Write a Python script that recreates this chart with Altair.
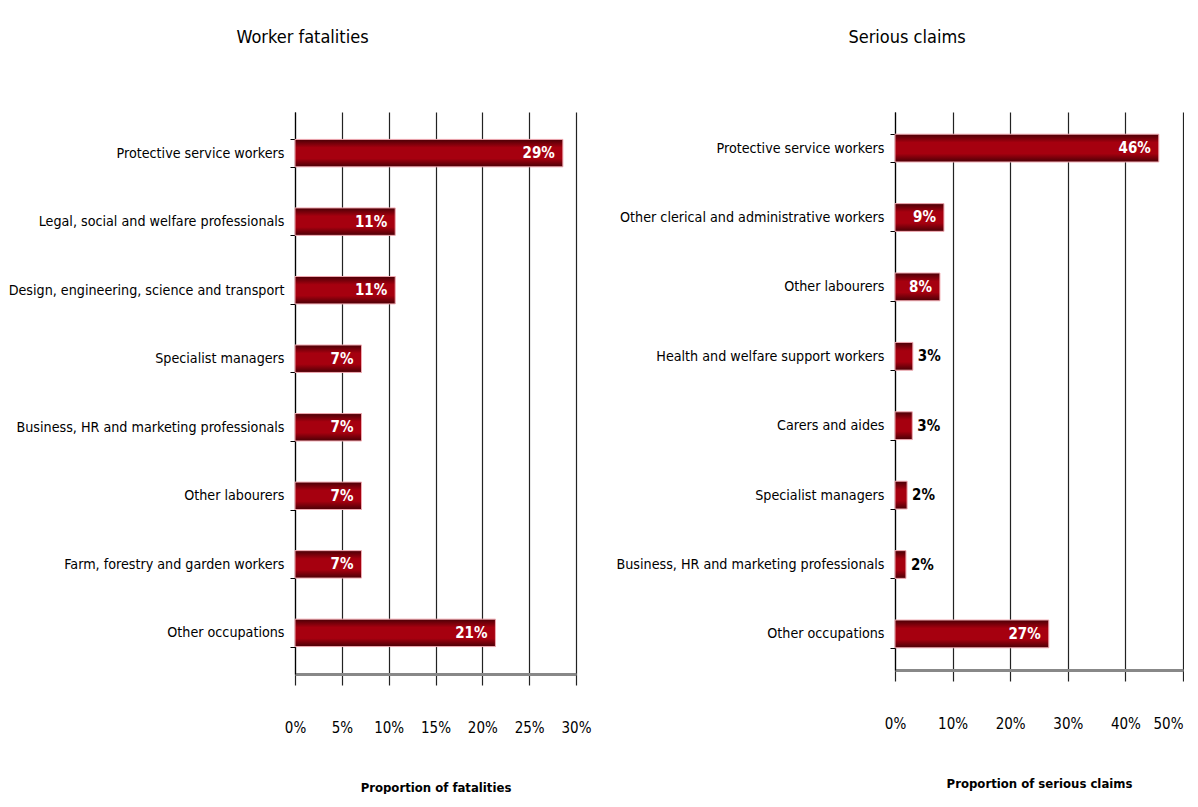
import altair as alt
import pandas as pd

# ---- data ----
fat_cats = [
    "Protective service workers",
    "Legal, social and welfare professionals",
    "Design, engineering, science and transport",
    "Specialist managers",
    "Business, HR and marketing professionals",
    "Other labourers",
    "Farm, forestry and garden workers",
    "Other occupations",
]
fat_vals = [28.6, 10.7, 10.7, 7.1, 7.1, 7.1, 7.1, 21.4]
fat_labels = ["29%", "11%", "11%", "7%", "7%", "7%", "7%", "21%"]
fat_ticks = [0, 0.05, 0.10, 0.15, 0.20, 0.25, 0.30]

claim_cats = [
    "Protective service workers",
    "Other clerical and administrative workers",
    "Other labourers",
    "Health and welfare support workers",
    "Carers and aides",
    "Specialist managers",
    "Business, HR and marketing professionals",
    "Other occupations",
]
claim_vals = [45.8, 8.5, 7.8, 3.1, 3.0, 2.1, 1.9, 26.7]
claim_labels = ["46%", "9%", "8%", "3%", "3%", "2%", "2%", "27%"]
claim_ticks = [0, 0.10, 0.20, 0.30, 0.40, 0.50]

FONT = "DejaVu Sans Condensed, Liberation Sans Narrow, sans-serif"

gradient = alt.Gradient(
    gradient="linear",
    x1=0, x2=0, y1=0, y2=1,
    stops=[
        alt.GradientStop(color="#4a0006", offset=0),
        alt.GradientStop(color="#a6000f", offset=0.3),
        alt.GradientStop(color="#a6000f", offset=0.7),
        alt.GradientStop(color="#4a0006", offset=1),
    ],
)


def panel(cats, vals, labels, ticks, title, xtitle, width, height, pad_outer, tdx):
    df = pd.DataFrame({
        "cat": cats,
        "val": [v / 100 for v in vals],
        "lab": labels,
        "inside": [v >= 5 for v in vals],
    })
    y = alt.Y(
        "cat:N", sort=cats, title=None,
        scale=alt.Scale(paddingInner=0.6, paddingOuter=pad_outer),
        axis=alt.Axis(
            tickBand="extent", ticks=True, tickSize=5, tickColor="black",
            domainColor="black", domainWidth=1.2,
            labelFont=FONT, labelFontSize=14.2, labelColor="black",
            labelPadding=6, labelLimit=400, grid=False,
        ),
    )
    x = alt.X(
        "val:Q", title=xtitle,
        scale=alt.Scale(domain=[0, ticks[-1]], nice=False),
        axis=alt.Axis(
            values=ticks, format=".0%", grid=True, gridColor="#222",
            gridWidth=1.2, domainColor="#888", domainWidth=3,
            tickColor="#222", tickSize=11, tickWidth=1.2,
            labelFont=FONT, labelFontSize=15, labelColor="black",
            labelPadding=35, labelOverlap=False, labelFlush=False,
            labelAlign={
                "condition": {"test": "datum.value >= 0.45", "value": "right"},
                "value": "center",
            },
            titleFont=FONT, titleFontSize=13, titleFontWeight="bold",
            titleColor="black", titlePadding=46,
        ),
    )
    bars = alt.Chart(df).mark_bar(
        color=gradient, stroke="#f0a8b0", strokeWidth=1
    ).encode(x=x, y=y)
    t_in = alt.Chart(df).transform_filter("datum.inside").mark_text(
        align="right", baseline="middle", dx=-8, color="white",
        font=FONT, fontSize=15, fontWeight="bold",
    ).encode(x="val:Q", y=alt.Y("cat:N", sort=cats), text="lab:N")
    t_out = alt.Chart(df).transform_filter("!datum.inside").mark_text(
        align="left", baseline="middle", dx=5, color="black",
        font=FONT, fontSize=15, fontWeight="bold",
    ).encode(x="val:Q", y=alt.Y("cat:N", sort=cats), text="lab:N")
    return alt.layer(bars, t_in, t_out).properties(
        width=width, height=height,
        title=alt.TitleParams(
            title, font=FONT, fontSize=18, fontWeight="normal", color="black",
            anchor="middle", frame="group", dx=tdx, offset=58,
        ),
    )


left = panel(fat_cats, fat_vals, fat_labels, fat_ticks,
             "Worker fatalities", "Proportion of fatalities", 281, 562, 0.4, -133)
right = panel(claim_cats, claim_vals, claim_labels, claim_ticks,
              "Serious claims", "Proportion of serious claims", 288, 558, 0.32, -132)

chart = alt.hconcat(left, right, spacing=319, bounds="flush").properties(
    padding={"left": 0, "top": 21, "right": 0, "bottom": 0}
).configure_view(stroke=None)

chart.save("out.html", embed_options={"renderer": "svg", "actions": False})
